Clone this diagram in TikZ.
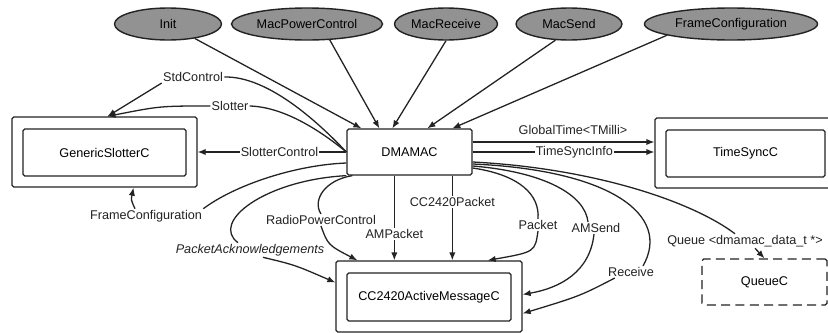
\documentclass[tikz,border=0pt]{standalone}
\usepackage{fontspec}
\setmainfont{Liberation Sans}
\usetikzlibrary{arrows.meta,calc,shapes.geometric}

\definecolor{ifgray}{RGB}{146,146,146}
\definecolor{ink}{RGB}{35,35,35}

\tikzstyle{iface} = [ellipse, draw=ink, fill=ifgray, line width=1.2pt, inner sep=0pt, minimum height=0.96cm]
\tikzstyle{modbox} = [draw=ink, line width=1.1pt, rounded corners=1.5pt, inner sep=0pt]
\tikzstyle{wire} = [draw=ink, line width=1.1pt]
\tikzstyle{lbl} = [inner sep=1pt, text=ink]
\tikzstyle{onwire} = [lbl, fill=white]

\begin{document}
\begin{tikzpicture}[x=0.03cm, y=-0.03cm, font=\fontsize{10.8}{12}\selectfont, >={Latex[length=2.4mm,width=1.9mm]}]
  \clip (0,0) rectangle (828,333);
  \fill[white] (0,0) rectangle (828,333);

  \node[iface, minimum width=3.21cm] (init) at (168,24) {Init};
  \node[iface, minimum width=4.53cm] (macpower) at (307,24) {MacPowerControl};
  \node[iface, minimum width=3.09cm] (macrecv) at (446,24) {MacReceive};
  \node[iface, minimum width=3.18cm] (macsend) at (569,24) {MacSend};
  \node[iface, minimum width=5.19cm] (frameif) at (731,24) {FrameConfiguration};

  \node[modbox, minimum width=3.75cm, minimum height=1.38cm] (dmamac) at (409.5,152) {DMAMAC};

  \node[modbox, minimum width=5.55cm, minimum height=2.1cm] (gen) at (104.5,152) {};
  \node[modbox, minimum width=4.89cm, minimum height=1.41cm] (geninner) at (104.5,152.5) {GenericSlotterC};

  \node[modbox, minimum width=5.43cm, minimum height=2.1cm] (tsync) at (745.5,153) {};
  \node[modbox, minimum width=4.77cm, minimum height=1.41cm] (tsyncinner) at (745.5,153.5) {TimeSyncC};

  \node[modbox, minimum width=5.58cm, minimum height=2.13cm] (cc) at (429,296.5) {};
  \node[modbox, minimum width=4.92cm, minimum height=1.44cm] (ccinner) at (429,297) {CC2420ActiveMessageC};

  \node[modbox, dash pattern=on 2.7mm off 1.6mm, minimum width=3.75cm, minimum height=1.38cm] (queue) at (764.5,282) {QueueC};

  \node[lbl] (lstd) at (193,77) {StdControl};
  \node[lbl] (lslot) at (230,106) {Slotter};
  \node[lbl] (lfc) at (146,216) {FrameConfiguration};
  \node[lbl, font=\fontsize{10.8}{12}\selectfont\itshape] (lpa) at (250,250) {PacketAcknowledgements};
  \node[lbl] (lrpc) at (321,220) {RadioPowerControl};
  \node[lbl] (lpk) at (538,225) {Packet};
  \node[lbl] (lams) at (596,228) {AMSend};
  \node[lbl] (lrcv) at (631,272) {Receive};
  \node[lbl] (lq) at (745,241) {Queue \textless dmamac\_data\_t *\textgreater};
  \node[lbl] (lgt) at (573,130) {GlobalTime\textless TMilli\textgreater};

  \draw[wire,->] (init) -- ($(dmamac.north west)+(15,0)$);
  \draw[wire,->] (macpower.-35) -- ($(dmamac.north west)+(33,0)$);
  \draw[wire,->] (macrecv.south) -- ($(dmamac.north west)+(46,0)$);
  \draw[wire,->] (macsend.-130) -- ($(dmamac.north west)+(81,0)$);
  \draw[wire,->] (frameif.-170) -- ($(dmamac.north west)+(106,0)$);

  \coordinate (gtA) at ($(dmamac.east)+(0,-10)$);
  \draw[wire,->] (gtA) -- (gtA -| tsync.west);
  \draw[wire,->] (dmamac.east) -- node[onwire, pos=0.56] (lts) {TimeSyncInfo} (dmamac.east -| tsync.west);
  \draw[wire,->] (dmamac.west) -- node[onwire, pos=0.45] (lsc) {SlotterControl} (dmamac.west -| gen.east);

  \draw[wire] (dmamac.west) .. controls (318,122) and (268,76) .. (lstd.east);
  \draw[wire,->] (lstd.south west) -- ($(gen.north)+(3,0)$);
  \draw[wire] (dmamac.west) .. controls (322,132) and (285,107) .. (lslot.east);
  \draw[wire,->] (lslot.west) .. controls (160,106) .. ($(gen.north)+(3,0)$);

  \draw[wire] ($(dmamac.west)+(0,11)$) .. controls (295,165) and (235,185) .. (lfc.north east);
  \draw[wire,->] ($(lfc.north)+(-11,0)$) .. controls (131,200) .. ($(gen.south)+(29,0)$);

  \draw[wire] (dmamac.south west) .. controls (265,180) and (210,222) .. ($(lpa.north)+(-12,0)$);
  \draw[wire,->] ($(lpa.south)+(13,0)$) .. controls (295,265) .. ($(cc.west)+(0,-14)$);

  \draw[wire] ($(dmamac.south west)+(6,0)$) .. controls (325,180) and (312,200) .. (lrpc.north);
  \draw[wire,->] (lrpc.south) .. controls (328,245) .. ($(cc.north west)+(22,0)$);

  \coordinate (ampA) at ($(dmamac.south west)+(48,0)$);
  \draw[wire,->] (ampA) -- node[onwire, pos=0.69] (lamp) {AMPacket} (ampA |- cc.north);
  \coordinate (ccpA) at ($(dmamac.south west)+(106,0)$);
  \draw[wire,->] (ccpA) -- node[onwire, pos=0.31] (lccp) {CC2420Packet} (ccpA |- cc.north);

  \draw[wire] ($(dmamac.east)+(0,16)$) .. controls (520,175) and (540,195) .. (lpk.north);
  \draw[wire,->] (lpk.south) .. controls (535,252) .. ($(cc.north east)+(-35,0)$);

  \draw[wire] ($(dmamac.east)+(0,14)$) .. controls (545,172) and (585,195) .. ($(lams.north)+(-8,0)$);
  \draw[wire,->] ($(lams.south)+(-2,0)$) .. controls (590,272) and (560,288) .. ($(cc.east)+(0,-2)$);

  \draw[wire] ($(dmamac.east)+(0,12)$) .. controls (610,170) and (672,215) .. ($(lrcv.north)+(12,0)$);
  \draw[wire,->] ($(lrcv.south west)+(8,0)$) .. controls (580,296) .. ($(cc.east)+(0,17)$);

  \draw[wire] ($(dmamac.east)+(0,10)$) .. controls (590,168) and (690,200) .. ($(lq.north)+(-10,0)$);
  \draw[wire,->] ($(lq.south)+(10,0)$) -- (queue.north);
\end{tikzpicture}
\end{document}
